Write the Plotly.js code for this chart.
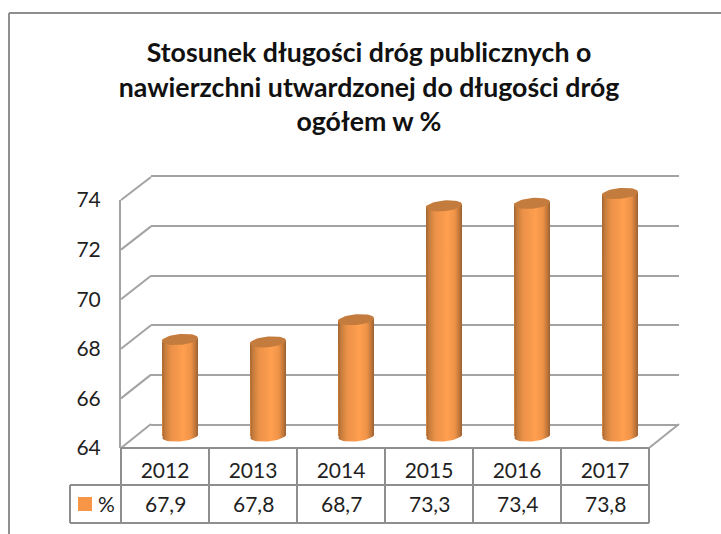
<!DOCTYPE html>
<html>
<head>
<meta charset="utf-8">
<script src="https://cdn.plot.ly/plotly-3.0.1.min.js"></script>
<style>html,body{margin:0;padding:0;background:#fff}#c{width:721px;height:534px}</style>
</head>
<body>
<div id="c"></div>
<script>
// ---- data ----
const years = [2012, 2013, 2014, 2015, 2016, 2017];
const values = [67.9, 67.8, 68.7, 73.3, 73.4, 73.8];
const yTicks = [64, 66, 68, 70, 72, 74];
const seriesName = '%';
const titleLines = ['Stosunek długości dróg publicznych o', 'nawierzchni utwardzonej do długości dróg', 'ogółem w %'];

// ---- page geometry ----
const W = 721, H = 534;
const px = v => v / W, py = v => 1 - v / H;
const FRONT = {x0: 121, x1: 649, y64: 448, y74: 200};
const BACK = {x0: 151, x1: 679, y64: 424, y74: 177};
const MID = {y64: 436, y74: 188.5, x2012: 180, step: 88};
const TABLE = {left: 70, rowMid: 485, bottom: 523};
const GRID = '#a3a3a3', TABLE_LINE = '#8e8e8e', TEXT = '#1f1f1f';
const FONT = 'Lato, "Open Sans", sans-serif';

// ---- cylinder outline helpers (all from values, on the library's axes) ----
const unitY = (MID.y64 - MID.y74) / 10;
const rx = 18 / MID.step, ry = 5.4 / unitY, tilt = 1.5 / unitY;
const angles = Array.from({length: 49}, (_, i) => i * 2 * Math.PI / 48);
const ex = (c, t) => c + rx * Math.cos(t);
const ey = (v, t) => v + ry * Math.sin(t) + tilt * Math.cos(t);
const bodyScale = [[0, '#a0632f'], [0.08, '#c47c3c'], [0.25, '#ec9148'], [0.6, '#ff9f4f'], [0.8, '#ef9348'], [0.93, '#bd7539'], [1, '#9a5f2e']];

const traces = [];
// back wall axes carry the gridlines, front axes carry the labels
traces.push({type: 'scatter', mode: 'none', x: years.map(String), y: values, xaxis: 'x', yaxis: 'y', showlegend: false, hoverinfo: 'skip'});
traces.push({type: 'scatter', mode: 'none', x: years.map(String), y: values, xaxis: 'x2', yaxis: 'y2', showlegend: false, hoverinfo: 'skip'});
// the bars themselves
traces.push({type: 'bar', name: seriesName, x: years, y: values, width: 2 * rx, marker: {color: '#f79646', line: {width: 0}}, xaxis: 'x3', yaxis: 'y3', showlegend: false});
// rounded cylinder skin and cap for each bar
years.forEach((yr, i) => {
  const v = values[i];
  const low = angles.filter(t => t >= Math.PI && t <= 2 * Math.PI);
  const bx = [ex(yr, Math.PI)].concat(low.map(t => ex(yr, t)), [ex(yr, 0), ex(yr, Math.PI)]);
  const by = [ey(v, Math.PI)].concat(low.map(t => ey(yTicks[0], t)), [ey(v, 0), ey(v, Math.PI)]);
  traces.push({type: 'scatter', mode: 'lines', x: bx, y: by, fill: 'toself', line: {width: 0, color: 'rgba(0,0,0,0)'},
    fillgradient: {type: 'horizontal', colorscale: bodyScale, start: yr - rx, stop: yr + rx},
    xaxis: 'x4', yaxis: 'y4', showlegend: false, hoverinfo: 'skip'});
  traces.push({type: 'scatter', mode: 'lines', x: angles.map(t => ex(yr, t)), y: angles.map(t => ey(v, t)), fill: 'toself', fillcolor: '#c47c3e', line: {width: 0, color: 'rgba(0,0,0,0)'},
    xaxis: 'x4', yaxis: 'y4', showlegend: false, hoverinfo: 'skip'});
});

// ---- decorations ----
const line = (x0, y0, x1, y1, color, width) => ({type: 'line', xref: 'paper', yref: 'paper', layer: 'below', x0: px(x0), y0: py(y0), x1: px(x1), y1: py(y1), line: {color: color || TABLE_LINE, width: width || 2}});
const shapes = [];
// outer frame of the pasted picture
shapes.push(line(9, 13, 721, 13, '#8f8f8f', 2));
shapes.push(line(9, 13, 9, 534, '#8f8f8f', 2));
// wall diagonals
yTicks.forEach(t => {
  const f = (t - 64) / 10;
  shapes.push(line(FRONT.x0, FRONT.y64 + f * (FRONT.y74 - FRONT.y64), BACK.x0, BACK.y64 + f * (BACK.y74 - BACK.y64), GRID, 2));
});
shapes.push(line(FRONT.x1, FRONT.y64, BACK.x1, BACK.y64, GRID, 2));
// data table
const colW = (FRONT.x1 - FRONT.x0) / years.length;
shapes.push(line(FRONT.x0, FRONT.y64, FRONT.x1, FRONT.y64));
shapes.push(line(TABLE.left, TABLE.rowMid, FRONT.x1, TABLE.rowMid));
shapes.push(line(TABLE.left, TABLE.bottom, FRONT.x1, TABLE.bottom));
shapes.push(line(TABLE.left, TABLE.rowMid, TABLE.left, TABLE.bottom));
years.concat([0]).forEach((_, i) => shapes.push(line(FRONT.x0 + i * colW, FRONT.y64, FRONT.x0 + i * colW, TABLE.bottom)));
shapes.push({type: 'rect', xref: 'paper', yref: 'paper', x0: px(78), x1: px(92), y0: py(497), y1: py(511), fillcolor: '#f79646', line: {width: 0}});

const annotations = values.map((v, i) => ({
  xref: 'x2', yref: 'paper', x: i, y: py(503), text: v.toFixed(1).replace('.', ','), showarrow: false, xanchor: 'center', yanchor: 'middle',
  font: {family: FONT, size: 21, color: TEXT}
}));
annotations.push({xref: 'paper', yref: 'paper', x: px(107), y: py(503), text: seriesName, showarrow: false, xanchor: 'center', yanchor: 'middle', font: {family: FONT, size: 21, color: TEXT}});

const hidden = {visible: true, showgrid: false, zeroline: false, showline: false, showticklabels: false, ticks: ''};
const pageRange = [yTicks[0] - (H - MID.y64) / unitY, yTicks[0] + MID.y64 / unitY];
const xPageRange = [years[0] - MID.x2012 / MID.step, years[0] + (W - MID.x2012) / MID.step];
const layout = {
  width: W, height: H,
  margin: {l: 0, r: 0, t: 0, b: 0, pad: 0},
  paper_bgcolor: '#fff', plot_bgcolor: 'rgba(0,0,0,0)',
  showlegend: false, hovermode: false, barmode: 'overlay',
  title: {text: titleLines.join('<br>'), x: px(369), xanchor: 'center', y: py(62), yanchor: 'middle', font: {family: FONT, size: 26.7, color: '#111', weight: 700}},
  // back wall
  xaxis: Object.assign({}, hidden, {domain: [px(BACK.x0), px(BACK.x1)], type: 'category', anchor: 'y', showline: true, mirror: true, linecolor: GRID, linewidth: 2}),
  yaxis: Object.assign({}, hidden, {domain: [py(BACK.y64), py(BACK.y74)], range: [yTicks[0], yTicks[5]], tickvals: yTicks, showgrid: true, gridcolor: GRID, gridwidth: 2, anchor: 'x'}),
  // front axis + year labels
  xaxis2: {domain: [px(FRONT.x0), px(FRONT.x1)], type: 'category', anchor: 'y2', range: [-0.5, years.length - 0.5], showgrid: false, zeroline: false, showline: false,
    ticks: 'outside', ticklen: 4, tickcolor: 'rgba(0,0,0,0)', tickfont: {family: FONT, size: 21, color: TEXT}},
  yaxis2: {domain: [py(FRONT.y64), py(FRONT.y74)], anchor: 'x2', range: [yTicks[0], yTicks[5]], tickvals: yTicks, showgrid: false, zeroline: false, showline: true, linecolor: GRID, linewidth: 2,
    ticks: 'outside', ticklen: 14, tickcolor: 'rgba(0,0,0,0)', tickfont: {family: FONT, size: 21, color: TEXT}},
  // bars, mid depth: range starts at the axis floor
  xaxis3: Object.assign({}, hidden, {domain: [0, 1], anchor: 'y3', range: xPageRange}),
  yaxis3: Object.assign({}, hidden, {domain: [py(MID.y64), py(MID.y74)], anchor: 'x3', range: [yTicks[0], yTicks[5]]}),
  // cylinder skins: same scale, whole page so nothing clips
  xaxis4: Object.assign({}, hidden, {domain: [0, 1], anchor: 'y4', range: xPageRange}),
  yaxis4: Object.assign({}, hidden, {domain: [0, 1], anchor: 'x4', range: pageRange}),
  shapes, annotations
};
Plotly.newPlot('c', traces, layout, {staticPlot: true, displayModeBar: false});
</script>
</body>
</html>
